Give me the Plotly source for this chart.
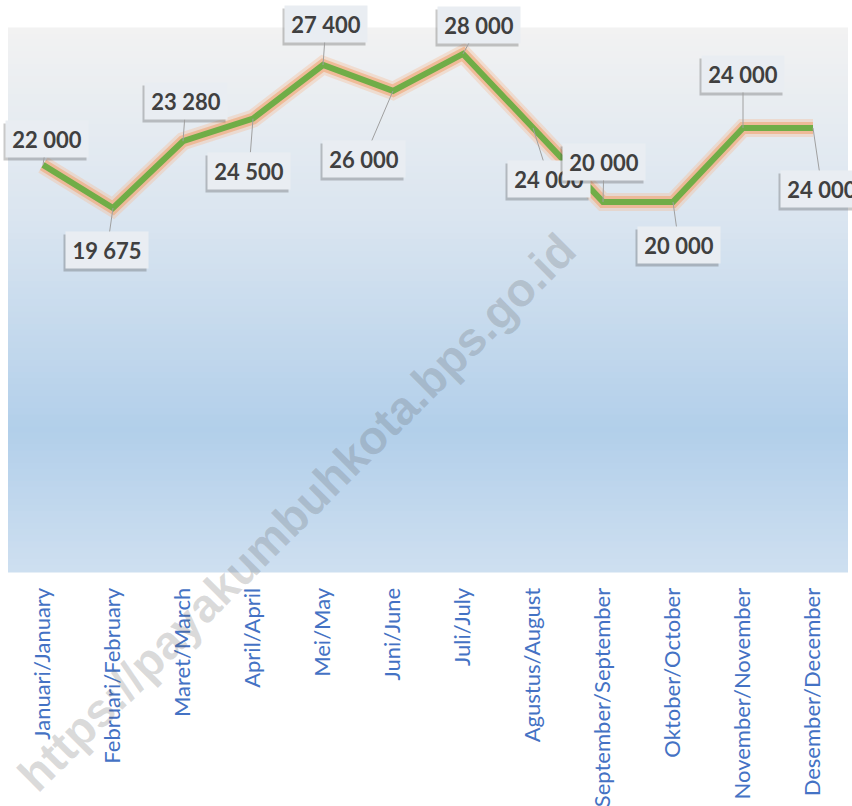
import plotly.graph_objects as go

months = ["Januari/January", "Februari/February", "Maret/March", "April/April",
          "Mei/May", "Juni/June", "Juli/July", "Agustus/August",
          "September/September", "Oktober/October", "November/November",
          "Desember/December"]
values = [22000, 19675, 23280, 24500, 27400, 26000, 28000, 24000,
          20000, 20000, 24000, 24000]
label_texts = ["22 000", "19 675", "23 280", "24 500", "27 400", "26 000",
               "28 000", "24 000", "20 000", "20 000", "24 000", "24 000"]
# pixel offsets of each data label box from its point
label_dx = [4, -6, 3, -4, 3, -29, 16, 16, 1, 6, 0, 9]
label_dy = [-26, 42, -40, 52, -41, 68, -29, 51, -40, 43, -54, 61]

fig = go.Figure()

# glow layers
fig.add_trace(go.Scatter(x=months, y=values, mode="lines",
                         line=dict(color="rgba(245,185,145,0.35)", width=18),
                         hoverinfo="skip", showlegend=False))
fig.add_trace(go.Scatter(x=months, y=values, mode="lines",
                         line=dict(color="rgba(240,165,115,0.6)", width=12),
                         hoverinfo="skip", showlegend=False))
fig.add_trace(go.Scatter(x=months, y=values, mode="lines",
                         line=dict(color="#70ad47", width=6),
                         showlegend=False))

# gradient background for plot area
stops = [(0.0, (242, 242, 242)), (0.35, (218, 229, 240)),
         (0.74, (178, 207, 234)), (1.0, (206, 223, 240))]

def col_at(t):
    for (t0, c0), (t1, c1) in zip(stops[:-1], stops[1:]):
        if t0 <= t <= t1:
            f = (t - t0) / (t1 - t0) if t1 > t0 else 0
            return tuple(int(round(a + (b - a) * f)) for a, b in zip(c0, c1))
    return stops[-1][1]

shapes = []
n = 90
for i in range(n):
    y1 = 1 - i / n
    y0 = 1 - (i + 1) / n
    t = (i + 0.5) / n
    r, g, b = col_at(t)
    shapes.append(dict(type="rect", xref="paper", yref="paper",
                       x0=0, x1=1, y0=y0 - 0.001, y1=y1 + 0.001,
                       fillcolor=f"rgb({r},{g},{b})", line=dict(width=0),
                       layer="below"))

BOX_W, BOX_H = 70, 24
annotations = []
for m, v, t, dx, dy in zip(months, values, label_texts, label_dx, label_dy):
    # shadow (empty box)
    annotations.append(dict(x=m, y=v, xref="x", yref="y", text=" ",
                            width=BOX_W, height=BOX_H,
                            showarrow=True, arrowcolor="rgba(0,0,0,0)",
                            arrowwidth=0.1, ax=dx - 2, ay=dy + 3,
                            bgcolor="rgba(60,60,60,0.28)", borderpad=6,
                            font=dict(family="Lato", size=22,
                                      color="rgba(0,0,0,0)")))
    annotations.append(dict(x=m, y=v, xref="x", yref="y", text=t,
                            width=BOX_W, height=BOX_H,
                            showarrow=True, arrowhead=0, arrowwidth=1,
                            arrowcolor="#a0a0a0", standoff=0,
                            ax=dx, ay=dy,
                            bgcolor="#e9edf2", borderpad=6,
                            font=dict(family="Lato", size=22,
                                      color="#404040", weight="bold")))

annotations.append(dict(x=0.343, y=0.11, xref="paper", yref="paper",
                        text="https://payakumbuhkota.bps.go.id",
                        showarrow=False, textangle=-45,
                        xanchor="center", yanchor="middle",
                        font=dict(family="Liberation Sans", size=47,
                                  color="rgba(90,90,90,0.22)", weight="bold")))

fig.update_layout(
    width=852, height=806,
    margin=dict(l=8, r=4, t=28, b=234),
    paper_bgcolor="white",
    plot_bgcolor="rgba(0,0,0,0)",
    shapes=shapes,
    annotations=annotations,
    showlegend=False,
    xaxis=dict(type="category", range=[-0.5, 11.5], showgrid=False,
               zeroline=False, showline=False, tickangle=-90,
               automargin=False,
               ticks="outside", ticklen=6, tickcolor="rgba(0,0,0,0)",
               tickfont=dict(family="Lato", size=22, color="#4472c4")),
    yaxis=dict(range=[0, 29400], visible=False, showgrid=False,
               automargin=False),
)

fig.write_html("out.html", config={"displayModeBar": False},
               post_script="document.body.style.margin='0';document.body.style.overflow='hidden';")
